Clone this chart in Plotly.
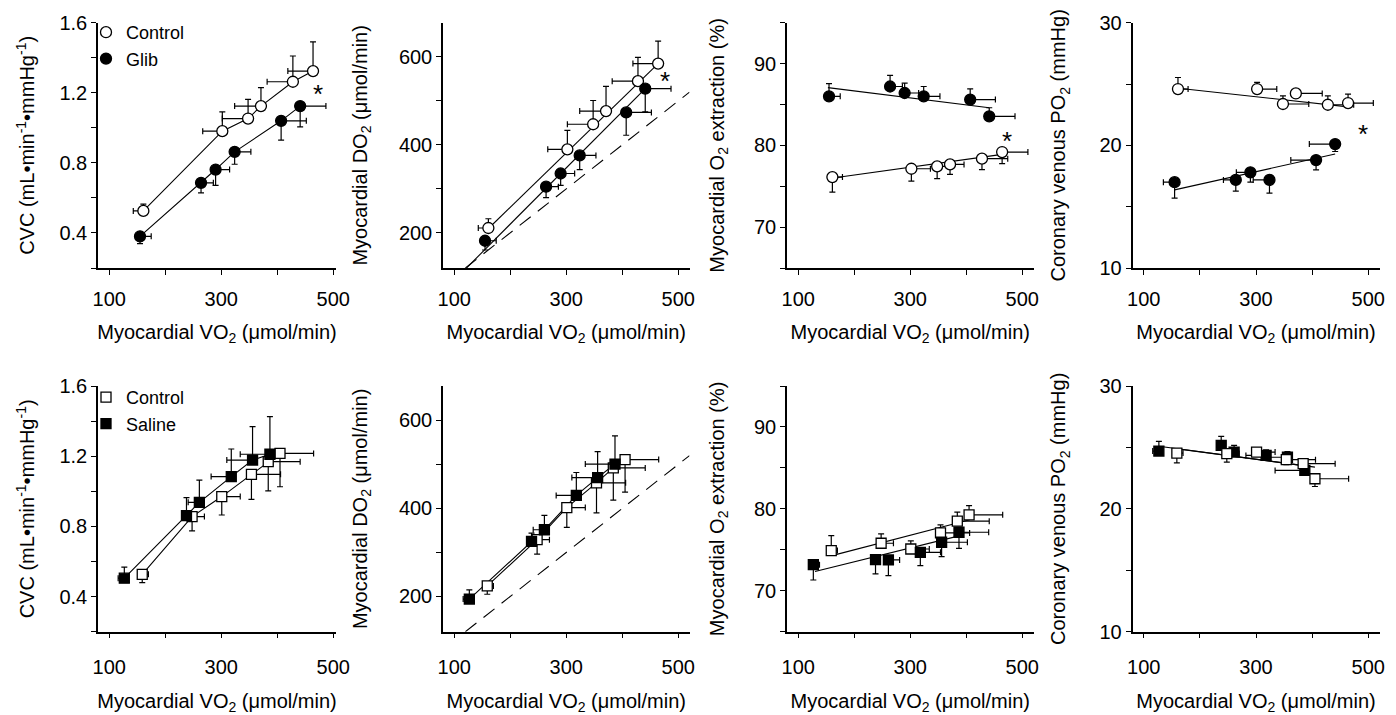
import plotly.graph_objects as go

FONT = "Liberation Sans, Arial, Helvetica, sans-serif"

# ---------------- data: top row (Control vs Glib) ----------------
top_ctrl_vo2 = [161, 302, 348, 371, 428, 464]
top_glib_vo2 = [155, 264, 290, 324, 407, 441]
top_ctrl_vo2_err = [18, 35, 46, 47, 46, 45]
top_glib_vo2_err = [20, 22, 25, 29, 45, 46]
ext_ctrl_vo2_err = [18, 34, 22, 25, 46, 46]

cvc_ctrl = [0.526, 0.981, 1.053, 1.124, 1.263, 1.324]
cvc_ctrl_err = [0.038, 0.11, 0.109, 0.106, 0.147, 0.167]
cvc_glib = [0.381, 0.686, 0.762, 0.863, 1.04, 1.124]
cvc_glib_err = [0.042, 0.057, 0.09, 0.071, 0.11, 0.118]

do2_ctrl = [211, 390, 447, 477, 545, 585]
do2_ctrl_err = [21, 43, 54, 56, 54, 51]
do2_glib = [182, 305, 335, 376, 474, 528]
do2_glib_err = [21, 25, 27, 32, 52, 53]
do2_ctrl_fit = ([162, 464], [211, 585])
do2_glib_fit = ([122, 441], [120, 528])

ext_glib = [86.0, 87.2, 86.4, 86.0, 85.6, 83.55]
ext_glib_err = [1.55, 1.35, 1.2, 1.2, 1.3, 1.05]
ext_ctrl = [76.12, 77.14, 77.43, 77.67, 78.37, 79.18]
ext_ctrl_err = [1.84, 1.52, 1.51, 1.22, 1.35, 1.42]
ext_glib_fit = ([153, 441], [87.06, 84.6])
ext_ctrl_fit = ([162, 464], [76.0, 78.9])

pvo2_ctrl = [24.59, 24.59, 23.37, 24.23, 23.31, 23.45]
pvo2_ctrl_err = [0.94, 0.54, 0.67, 0.3, 0.73, 0.73]
pvo2_glib = [17.0, 17.18, 17.8, 17.18, 18.8, 20.1]
pvo2_glib_err = [1.3, 0.92, 0.8, 1.08, 0.8, 0.6]
pvo2_ctrl_fit = ([162, 464], [24.66, 23.14])
pvo2_glib_fit = ([155, 441], [16.37, 19.3])

# ---------------- data: bottom row (Control vs Saline) ----------------
bot_ctrl_vo2 = [159, 248, 301, 354, 384, 405]
bot_sal_vo2 = [127, 238, 261, 318, 356, 387]
bot_ctrl_vo2_err = [11, 22, 33, 52, 57, 60]
bot_sal_vo2_err = [11, 8, 20, 36, 46, 53]

cvc2_sal = [0.505, 0.861, 0.937, 1.084, 1.178, 1.211]
cvc2_sal_err = [0.063, 0.103, 0.127, 0.157, 0.19, 0.214]
cvc2_ctrl = [0.527, 0.856, 0.97, 1.097, 1.169, 1.216]
cvc2_ctrl_err = [0.047, 0.082, 0.105, 0.143, 0.167, 0.19]

do2b_sal = [194, 325, 351.5, 429.5, 470, 500.8]
do2b_sal_err = [21, 19, 32.5, 52, 59, 64]
do2b_ctrl = [224, 329, 402, 458, 492, 511]
do2b_ctrl_err = [19, 33, 45, 68, 73, 74]

ext2_ctrl = [74.9, 75.8, 75.1, 77.06, 78.5, 79.27]
ext2_ctrl_err = [1.84, 1.14, 1.0, 0.98, 1.1, 1.13]
ext2_sal = [73.18, 73.8, 73.76, 74.69, 75.92, 77.14]
ext2_sal_err = [1.87, 1.75, 1.92, 1.63, 1.75, 1.96]
ext2_ctrl_fit = ([167, 406.5], [74.41, 78.66])
ext2_sal_fit = ([130, 389], [72.35, 76.73])

pvo2b_sal = [24.7, 25.17, 24.62, 24.35, 24.2, 23.13]
pvo2b_sal_err = [0.8, 0.73, 0.55, 0.45, 0.45, 0.4]
pvo2b_ctrl = [24.54, 24.5, 24.62, 24.0, 23.68, 22.45]
pvo2b_ctrl_err = [0.8, 0.7, 0.3, 0.4, 0.3, 0.63]
pvo2b_sal_fit = ([127, 387], [25.1, 23.5])
pvo2b_ctrl_fit = ([157, 405], [24.9, 23.4])

identity_line = [120, 520]

x_title = "Myocardial VO<sub>2</sub> (μmol/min)"
y_titles = [
    "CVC (mL•min<sup>-1</sup>•mmHg<sup>-1</sup>)",
    "Myocardial DO<sub>2</sub> (μmol/min)",
    "Myocardial O<sub>2</sub> extraction (%)",
    "Coronary venous PO<sub>2</sub> (mmHg)",
]
asterisks = [(1, 473, 1.219), (2, 476, 556), (3, 473, 81.2), (4, 490, 21.3)]


def S(x, y, xerr, xdir, yerr, ydir, shape, filled, name, legend=None,
      connect=False, fit=None):
    return dict(x=x, y=y, xerr=xerr, xdir=xdir, yerr=yerr, ydir=ydir,
                shape=shape, filled=filled, name=name, legend=legend,
                connect=connect, fit=fit)


panels = [
    # top row
    dict(series=[
        S(top_ctrl_vo2, cvc_ctrl, top_ctrl_vo2_err, "left", cvc_ctrl_err, "up",
          "circle", False, "Control", "legend", connect=True),
        S(top_glib_vo2, cvc_glib, top_glib_vo2_err, "right", cvc_glib_err, "down",
          "circle", True, "Glib", "legend", connect=True)],
        yr=[0.2, 1.6], t0=0.4, dt=0.4, mdt=0.2, identity=False),
    dict(series=[
        S(top_ctrl_vo2, do2_ctrl, top_ctrl_vo2_err, "left", do2_ctrl_err, "up",
          "circle", False, "Control", fit=do2_ctrl_fit),
        S(top_glib_vo2, do2_glib, top_glib_vo2_err, "right", do2_glib_err, "down",
          "circle", True, "Glib", fit=do2_glib_fit)],
        yr=[120, 678], t0=200, dt=200, mdt=100, identity=True),
    dict(series=[
        S(top_glib_vo2, ext_glib, top_glib_vo2_err, "right", ext_glib_err, "up",
          "circle", True, "Glib", fit=ext_glib_fit),
        S(top_ctrl_vo2, ext_ctrl, ext_ctrl_vo2_err, "right", ext_ctrl_err, "down",
          "circle", False, "Control", fit=ext_ctrl_fit)],
        yr=[65, 95], t0=70, dt=10, mdt=5, identity=False),
    dict(series=[
        S(top_ctrl_vo2, pvo2_ctrl, top_ctrl_vo2_err, "right", pvo2_ctrl_err, "up",
          "circle", False, "Control", fit=pvo2_ctrl_fit),
        S(top_glib_vo2, pvo2_glib, top_glib_vo2_err, "left", pvo2_glib_err, "down",
          "circle", True, "Glib", fit=pvo2_glib_fit)],
        yr=[10, 30], t0=10, dt=10, mdt=5, identity=False),
    # bottom row
    dict(series=[
        S(bot_ctrl_vo2, cvc2_ctrl, bot_ctrl_vo2_err, "right", cvc2_ctrl_err, "down",
          "square", False, "Control", "legend2", connect=True),
        S(bot_sal_vo2, cvc2_sal, bot_sal_vo2_err, "left", cvc2_sal_err, "up",
          "square", True, "Saline", "legend2", connect=True)],
        yr=[0.2, 1.6], t0=0.4, dt=0.4, mdt=0.2, identity=False),
    dict(series=[
        S(bot_ctrl_vo2, do2b_ctrl, bot_ctrl_vo2_err, "right", do2b_ctrl_err, "down",
          "square", False, "Control", connect=True),
        S(bot_sal_vo2, do2b_sal, bot_sal_vo2_err, "left", do2b_sal_err, "up",
          "square", True, "Saline", connect=True)],
        yr=[120, 678], t0=200, dt=200, mdt=100, identity=True),
    dict(series=[
        S(bot_ctrl_vo2, ext2_ctrl, bot_ctrl_vo2_err, "right", ext2_ctrl_err, "up",
          "square", False, "Control", fit=ext2_ctrl_fit),
        S(bot_sal_vo2, ext2_sal, bot_sal_vo2_err, "right", ext2_sal_err, "down",
          "square", True, "Saline", fit=ext2_sal_fit)],
        yr=[65, 95], t0=70, dt=10, mdt=5, identity=False),
    dict(series=[
        S(bot_sal_vo2, pvo2b_sal, bot_sal_vo2_err, "left", pvo2b_sal_err, "up",
          "square", True, "Saline", fit=pvo2b_sal_fit),
        S(bot_ctrl_vo2, pvo2b_ctrl, bot_ctrl_vo2_err, "right", pvo2b_ctrl_err, "down",
          "square", False, "Control", fit=pvo2b_ctrl_fit)],
        yr=[10, 30], t0=10, dt=10, mdt=5, identity=False),
]

# the page body adds an 8px offset, so the figure is 8px smaller than the window
OFF = 8
W, H = 1396 - OFF, 715 - OFF
# screen-pixel layout of the plotting areas (left, right) per column and (top, bottom) per row
col_px = [(98, 336, [80, 505]), (443, 689.5, [80, 520]),
          (787, 1033.5, [80, 520]), (1132.5, 1379.5, [80, 520])]
row_px = [(22.7, 268), (386, 631.7)]
ystand = [19, 26, 24, 28]
xlab_stand = [7, 12]
xtitle_stand = [16, 23]

fig = go.Figure()
layout = {}

for i, p in enumerate(panels):
    k = i + 1
    r, c = divmod(i, 4)
    xa = "x" if k == 1 else f"x{k}"
    ya = "y" if k == 1 else f"y{k}"
    if p["identity"]:
        fig.add_trace(go.Scatter(x=identity_line, y=identity_line, mode="lines",
                                 line=dict(color="black", width=1.1, dash="14px,9px"),
                                 showlegend=False, hoverinfo="skip", xaxis=xa, yaxis=ya))
    for s in p["series"]:
        if s["connect"]:
            fig.add_trace(go.Scatter(x=s["x"], y=s["y"], mode="lines",
                                     line=dict(color="black", width=1.1),
                                     showlegend=False, hoverinfo="skip", xaxis=xa, yaxis=ya))
        if s["fit"] is not None:
            fig.add_trace(go.Scatter(x=s["fit"][0], y=s["fit"][1], mode="lines",
                                     line=dict(color="black", width=1.1),
                                     showlegend=False, hoverinfo="skip", xaxis=xa, yaxis=ya))
    for s in p["series"]:
        zeros = [0] * len(s["x"])
        ex = dict(type="data", symmetric=False, color="black", thickness=1.2, width=3,
                  array=s["xerr"] if s["xdir"] == "right" else zeros,
                  arrayminus=s["xerr"] if s["xdir"] == "left" else zeros)
        ey = dict(type="data", symmetric=False, color="black", thickness=1.2, width=3,
                  array=s["yerr"] if s["ydir"] == "up" else zeros,
                  arrayminus=s["yerr"] if s["ydir"] == "down" else zeros)
        size = 11 if s["shape"] == "circle" else 10
        marker = dict(symbol=s["shape"], size=size,
                      color="black" if s["filled"] else "white",
                      line=dict(color="black", width=1.3))
        tr = dict(x=s["x"], y=s["y"], mode="markers", marker=marker,
                  error_x=ex, error_y=ey, name=s["name"], xaxis=xa, yaxis=ya,
                  showlegend=s["legend"] is not None)
        if s["legend"] is not None:
            tr["legend"] = s["legend"]
        fig.add_trace(go.Scatter(**tr))

    left, right, xr = col_px[c]
    top, bot = row_px[r]
    axis_common = dict(showline=True, linecolor="black", linewidth=1.5,
                       ticks="outside", ticklen=5, tickwidth=1.3, tickcolor="black",
                       showgrid=False, zeroline=False, automargin=False,
                       tickfont=dict(family=FONT, size=20, color="black"))
    layout["xaxis" if k == 1 else f"xaxis{k}"] = dict(
        domain=[(left - OFF) / W, (right - OFF) / W], range=xr, anchor=ya,
        tick0=100, dtick=200,
        minor=dict(dtick=100, ticks="outside", ticklen=5, tickwidth=1.3, tickcolor="black"),
        ticklabelstandoff=xlab_stand[r],
        title=dict(text=x_title, standoff=xtitle_stand[r],
                   font=dict(family=FONT, size=20, color="black")),
        **axis_common)
    layout["yaxis" if k == 1 else f"yaxis{k}"] = dict(
        domain=[1 - (bot - OFF) / H, 1 - (top - OFF) / H], range=p["yr"], anchor=xa,
        tick0=p["t0"], dtick=p["dt"],
        minor=dict(dtick=p["mdt"], ticks="outside", ticklen=5, tickwidth=1.3, tickcolor="black"),
        ticklabelstandoff=0,
        title=dict(text=y_titles[c], standoff=ystand[c], font=dict(family=FONT, size=20, color="black")),
        **axis_common)

annotations = []
for k, ax, ay in asterisks:
    annotations.append(dict(x=ax, y=ay, xref="x" if k == 1 else f"x{k}",
                            yref="y" if k == 1 else f"y{k}", text="*", showarrow=False,
                            yshift=-5, font=dict(family=FONT, size=26, color="black")))

legend_common = dict(bgcolor="rgba(0,0,0,0)", borderwidth=0, itemwidth=30,
                     font=dict(family=FONT, size=18, color="black"),
                     xanchor="left", yanchor="top", tracegroupgap=0)

fig.update_layout(
    width=W, height=H, margin=dict(l=0, r=0, t=0, b=0, autoexpand=False),
    paper_bgcolor="white", plot_bgcolor="white",
    font=dict(family=FONT, color="black"),
    annotations=annotations,
    legend=dict(x=78 / W, y=1 - 6 / H, **legend_common),
    legend2=dict(x=78 / W, y=1 - 371 / H, **legend_common),
    **layout,
)

fig.write_html("out.html")
